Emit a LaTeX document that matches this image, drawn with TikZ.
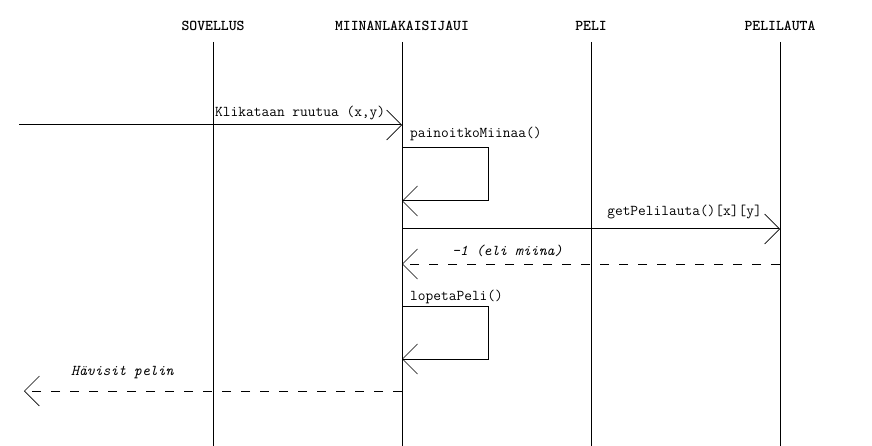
\documentclass[tikz,border=0pt]{standalone}
\usepackage{fontspec}
\usetikzlibrary{arrows.meta}

\begin{document}
\begin{tikzpicture}[x=1pt,y=-1pt,
 font=\ttfamily\fontsize{15}{17}\selectfont,
 lifeline/.style={black,line width=1pt},
 call/.style={-{Straight Barb[length=15pt,width=30pt,line width=0.7pt]},line width=1pt},
 reply/.style={call,dash pattern=on 9pt off 10pt},
 head/.style={font=\ttfamily\bfseries\fontsize{15}{17}\selectfont,anchor=base,inner sep=0pt},
 msg/.style={anchor=base west,inner sep=0pt},
 ret/.style={msg,font=\ttfamily\itshape\fontsize{15}{17}\selectfont}]
\useasboundingbox (0,0) rectangle (872,446);

% Lifelines, one per participant
\foreach \name/\xpos/\title in {sov/213/SOVELLUS,ui/402/MIINANLAKAISIJAUI,
  peli/591/PELI,lauta/780/PELILAUTA}{
  \node[head] (\name) at (\xpos,31) {\title};
  \draw[lifeline] (\xpos,42)--(\xpos,446);
}

% Message end points on the lifelines
\coordinate (user) at (19,125);
\coordinate (click) at (402,125);
\coordinate (chk-out) at (402,148);
\coordinate (chk-in) at (402,201);
\coordinate (ask) at (402,229);
\coordinate (board) at (780,229);
\coordinate (answer) at (780,264);
\coordinate (got) at (402,264);
\coordinate (end-out) at (402,306);
\coordinate (end-in) at (402,359);
\coordinate (lose) at (402,391);
\coordinate (screen) at (24,391);

\draw[call] (user)--(click);
\node[msg] (klik) at (215,117) {Klikataan ruutua (x,y)};
\draw[call] (chk-out)--++(86,0)|-(chk-in);
\node[msg] (paino) at (410,138) {painoitkoMiinaa()};
\draw[call] (ask)--(board);
\node[msg,anchor=base east] (getpl) at (762,216) {getPelilauta()[x][y]};
\draw[reply] (answer)--(got);
\node[ret] (miina) at (452,255) {-1 (eli miina)};
\draw[call] (end-out)--++(86,0)|-(end-in);
\node[msg] (lopeta) at (410,300) {lopetaPeli()};
\draw[reply] (lose)--(screen);
\node[ret] (havisit) at (71,375) {Hävisit pelin};
\end{tikzpicture}
\end{document}
